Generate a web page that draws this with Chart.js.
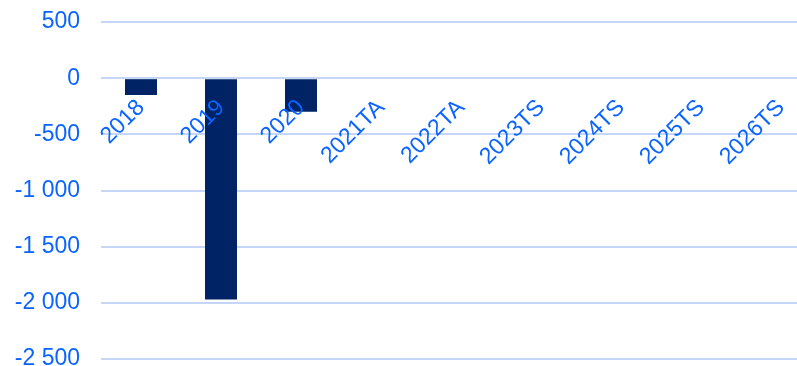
<!DOCTYPE html>
<html>
<head>
<meta charset="utf-8">
<script src="https://cdn.jsdelivr.net/npm/chart.js@4"></script>
<style>
  html, body { margin: 0; padding: 0; background: #fff; overflow: hidden; }
  #wrap { width: 840px; height: 380px; }
</style>
</head>
<body>
<div id="wrap"><canvas id="chart" width="840" height="380"></canvas></div>
<script>
// Years along the x axis, TA/TS are the estimate/forecast years
const years = ['2018', '2019', '2020', '2021TA', '2022TA', '2023TS', '2024TS', '2025TS', '2026TS'];
const values = [-150, -1970, -300, null, null, null, null, null, null];

const yMin = -2500;
const yMax = 500;
const yStep = 500;

const blue = '#0a64ff';
const navy = '#002366';
const gridBlue = 'rgb(198, 214, 248)';
const font = { family: "'Liberation Sans', Arial, sans-serif", size: 23 };

// thousands separated by a space, e.g. -2 500
const fmt = v => {
    const s = Math.abs(v).toString().replace(/\B(?=(\d{3})+(?!\d))/g, ' ');
    return (v < 0 ? '-' : '') + s;
};

// keep label overhang from pushing the plot area around
const noPad = s => { s.paddingLeft = 0; s.paddingRight = 0; s.paddingTop = 0; s.paddingBottom = 0; };

new Chart(document.getElementById('chart'), {
    type: 'bar',
    data: {
        labels: years,
        datasets: [{
            data: values,
            backgroundColor: navy,
            borderWidth: 0,
            categoryPercentage: 1,
            barPercentage: 0.4
        }]
    },
    options: {
        responsive: false,
        animation: false,
        layout: { padding: { left: 15, top: 22, right: 19, bottom: 21 } },
        plugins: { legend: { display: false }, tooltip: { enabled: false } },
        scales: {
            x: {
                position: { y: 0 },
                afterFit: noPad,
                grid: { display: false, drawTicks: false },
                border: { display: false },
                ticks: {
                    z: 1, // year labels sit on top of the bars
                    color: blue,
                    font: font,
                    minRotation: 45,
                    maxRotation: 45,
                    autoSkip: false,
                    padding: 16
                }
            },
            y: {
                min: yMin,
                max: yMax,
                // labels plus the gap before the plot, padding only on the plot side
                afterFit: s => { noPad(s); s.width = 86; },
                grid: { color: gridBlue, lineWidth: 2, drawTicks: false },
                border: { display: false },
                ticks: {
                    stepSize: yStep,
                    color: blue,
                    font: font,
                    padding: 21,
                    callback: v => fmt(v)
                }
            }
        }
    }
});
</script>
</body>
</html>
